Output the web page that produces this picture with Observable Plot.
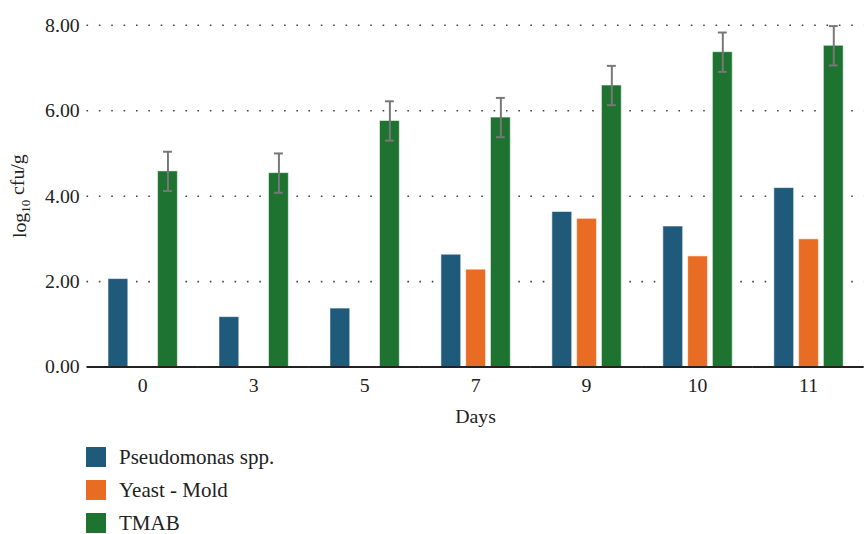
<!DOCTYPE html>
<html>
<head>
<meta charset="utf-8">
<script src="https://cdn.jsdelivr.net/npm/d3@7"></script>
<script src="https://cdn.jsdelivr.net/npm/@observablehq/plot@0.6"></script>
<style>
  body { margin: 0; background: #fff; font-family: "Liberation Serif", "DejaVu Serif", serif; color: #222; }
  #wrap { width: 864px; overflow: hidden; }
  #legend { margin-left: 86px; margin-top: 12px; }
  .row { display: flex; align-items: center; height: 33px; font-size: 21px; line-height: 20px; }
  .sw { width: 20px; height: 20px; margin-right: 13px; flex: none; }
</style>
</head>
<body>
<div id="wrap"><div id="chart"></div></div>
<div id="legend"></div>
<script>
// Sampling days and microbial groups
const days = ["0", "3", "5", "7", "9", "10", "11"];
const groups = ["Pseudomonas spp.", "Yeast - Mold", "TMAB"];
const groupColors = ["#205a7b", "#e86c24", "#1e7330"];

// Mean counts, log10 cfu/g (yeast-mold not detected before day 7)
const pseudomonas = [2.06, 1.17, 1.37, 2.63, 3.63, 3.29, 4.19];
const yeastMold = [null, null, null, 2.28, 3.47, 2.59, 2.99];
const tmab = [4.58, 4.54, 5.76, 5.84, 6.59, 7.37, 7.52];
const tmabSd = [0.46, 0.46, 0.46, 0.46, 0.46, 0.46, 0.46];

const yTicks = [0, 2, 4, 6, 8];

const seriesValues = [pseudomonas, yeastMold, tmab];
const rows = [];
groups.forEach((g, gi) => {
  days.forEach((d, di) => {
    const v = seriesValues[gi][di];
    if (v != null) rows.push({day: d, group: g, value: v});
  });
});
const errRows = days.map((d, i) => ({
  day: d, group: "TMAB", lo: tmab[i] - tmabSd[i], hi: tmab[i] + tmabSd[i]
}));

// Horizontal rules are drawn per day panel and stretched over the gaps between panels
const gap = -18.7;

const chart = Plot.plot({
  width: 872,
  height: 432,
  marginLeft: 86,
  marginRight: 0,
  marginTop: 25,
  marginBottom: 62,
  style: {fontFamily: "'Liberation Serif', 'DejaVu Serif', serif", fontSize: "20px", color: "#222", background: "#fff"},
  fx: {
    domain: days,
    paddingInner: 0.333,
    paddingOuter: 0.1665,
    label: "Days",
    labelAnchor: "center",
    labelOffset: 56,
    tickSize: 0,
    tickPadding: 11
  },
  x: {domain: groups, axis: null, paddingInner: 0.2, paddingOuter: 0.1},
  y: {
    domain: [0, 8],
    ticks: yTicks,
    tickFormat: ".2f",
    tickSize: 0,
    tickPadding: 26,
    label: "log10 cfu/g",
    labelAnchor: "center",
    labelArrow: "none",
    labelOffset: 94
  },
  color: {domain: groups, range: groupColors},
  marks: [
    Plot.ruleY(yTicks.slice(1), {stroke: "#444", strokeWidth: 1.6, strokeDasharray: "1.6 10.88", insetLeft: gap, insetRight: gap}),
    Plot.barY(rows, {fx: "day", x: "group", y: "value", fill: "group", stroke: "#fff", strokeOpacity: 0.55, strokeWidth: 1}),
    Plot.ruleX(errRows, {fx: "day", x: "group", y1: "lo", y2: "hi", stroke: "#777", strokeWidth: 2}),
    Plot.tickY(errRows, {fx: "day", x: "group", y: "lo", stroke: "#777", strokeWidth: 2, insetLeft: 5.5, insetRight: 5.5}),
    Plot.tickY(errRows, {fx: "day", x: "group", y: "hi", stroke: "#777", strokeWidth: 2, insetLeft: 5.5, insetRight: 5.5}),
    Plot.ruleY([0], {stroke: "#222", strokeWidth: 2, insetLeft: gap, insetRight: gap})
  ]
});
document.getElementById("chart").appendChild(chart);

// Serif text throughout, and the subscript in log10
const svg = d3.select(chart);
svg.selectAll("text").style("font-family", "'Liberation Serif', 'DejaVu Serif', serif");
const yLab = svg.select('g[aria-label="y-axis label"] text');
if (!yLab.empty()) {
  yLab.text(null);
  yLab.append("tspan").text("log");
  yLab.append("tspan").text("10").attr("font-size", "13px").attr("dy", "0.3em");
  yLab.append("tspan").text(" cfu/g").attr("dy", "-0.3em");
}

// Legend: one swatch per microbial group
const legend = d3.select("#legend");
groups.forEach((g, i) => {
  const row = legend.append("div").attr("class", "row");
  row.append("div").attr("class", "sw").style("background", groupColors[i]);
  row.append("span").text(g);
});
</script>
</body>
</html>
